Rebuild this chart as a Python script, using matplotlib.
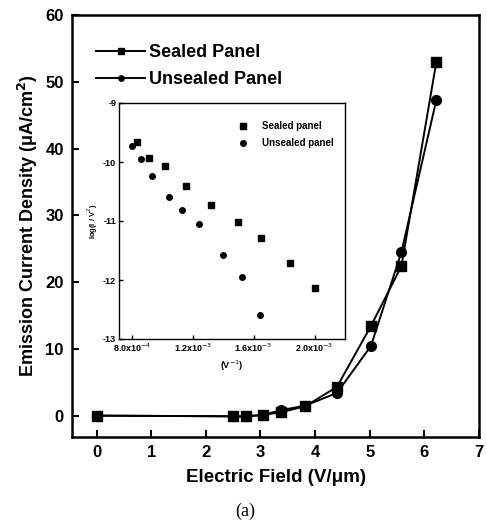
import matplotlib
matplotlib.use("Agg")
import matplotlib.pyplot as plt

# main panel data
field = [0, 2.5, 2.74, 3.04, 3.37, 3.82, 4.4, 5.02, 5.58, 6.22]
sealed_j = [0, -0.1, -0.1, 0.1, 0.5, 1.4, 4.3, 13.4, 22.4, 53.0]
unsealed_j = [0, -0.1, -0.1, 0.1, 0.8, 1.5, 3.4, 10.4, 24.5, 47.3]

# inset (Fowler-Nordheim) data
sealed_inv_v = [8.31e-4, 9.13e-4, 1.016e-3, 1.154e-3, 1.318e-3, 1.497e-3, 1.648e-3, 1.836e-3, 2.002e-3]
sealed_log = [-9.66, -9.94, -10.06, -10.41, -10.73, -11.02, -11.29, -11.72, -12.13]
unsealed_inv_v = [7.98e-4, 8.59e-4, 9.29e-4, 1.043e-3, 1.132e-3, 1.239e-3, 1.399e-3, 1.526e-3, 1.639e-3]
unsealed_log = [-9.73, -9.95, -10.23, -10.59, -10.82, -11.05, -11.58, -11.95, -12.59]

inset_xticks = [8.0e-4, 1.2e-3, 1.6e-3, 2.0e-3]
inset_xticklabels = [r"8.0x10$^{-4}$", r"1.2x10$^{-3}$", r"1.6x10$^{-3}$", r"2.0x10$^{-3}$"]

plt.rcParams['font.family'] = ['Liberation Sans', 'DejaVu Sans']

fig = plt.figure(figsize=(4.87, 5.25), dpi=100)
W, H = 487, 525

ax = fig.add_axes([72 / W, 1 - 437 / H, (479 - 72) / W, (437 - 15) / H])
ax.plot(field, sealed_j, color='black', lw=1.4, marker='s', ms=7, label='Sealed Panel')
ax.plot(field, unsealed_j, color='black', lw=1.4, marker='o', ms=7, label='Unsealed Panel')
ax.set_xlim(-0.45, 7)
ax.set_ylim(-3.2, 60)
ax.set_xticks(range(0, 8))
ax.set_yticks(range(0, 61, 10))
ax.tick_params(direction='in', length=5, width=1.5, labelsize=12, pad=6)
for lab in ax.get_xticklabels() + ax.get_yticklabels():
    lab.set_fontweight('bold')
for s in ax.spines.values():
    s.set_linewidth(1.8)
ax.set_xlabel('Electric Field (V/\u03bcm)', fontsize=13.5, fontweight='bold', labelpad=6)
ax.set_ylabel('Emission Current Density (\u03bcA/cm$^\\mathbf{2}$)', fontsize=13, fontweight='bold', labelpad=4)
leg = ax.legend(loc='upper left', bbox_to_anchor=(0.02, 0.97), frameon=False,
                prop={'weight': 'bold', 'size': 13}, markerscale=0.55,
                handlelength=2.7, handletextpad=0.2, labelspacing=0.55)

fig.text(245 / W, 1 - 511 / H, '(a)', ha='center', va='center', fontsize=13,
         family='Liberation Serif')

# inset
ins = fig.add_axes([119 / W, 1 - 339 / H, (345 - 119) / W, (339 - 103) / H])
ins.plot(sealed_inv_v, sealed_log, ls='none', marker='s', ms=4.5, color='black', label='Sealed panel')
ins.plot(unsealed_inv_v, unsealed_log, ls='none', marker='o', ms=4.0, color='black', label='Unsealed panel')
ins.set_xlim(7.15e-4, 2.2e-3)
ins.set_ylim(-13, -9)
ins.set_xticks(inset_xticks)
ins.set_xticklabels(inset_xticklabels)
ins.set_yticks([-13, -12, -11, -10, -9])
ins.set_yticklabels(['-13', '-12', '-11', '-10', '-9'])
ins.tick_params(direction='in', length=3, width=1, labelsize=6.5, pad=2)
for lab in ins.get_xticklabels() + ins.get_yticklabels():
    lab.set_fontweight('bold')
for s in ins.spines.values():
    s.set_linewidth(1.0)
ins.set_xlabel('(V$^{-1}$)', fontsize=6.5, fontweight='bold', labelpad=3)
ins.set_ylabel('log(I / V$^2$)', fontsize=5.5, fontweight='bold', labelpad=2)
ins.legend(loc='upper right', bbox_to_anchor=(0.99, 0.96), frameon=False,
           prop={'weight': 'bold', 'size': 7},
           handlelength=1.5, handletextpad=1.2, labelspacing=0.7)

fig.savefig('out.png', dpi=100)
